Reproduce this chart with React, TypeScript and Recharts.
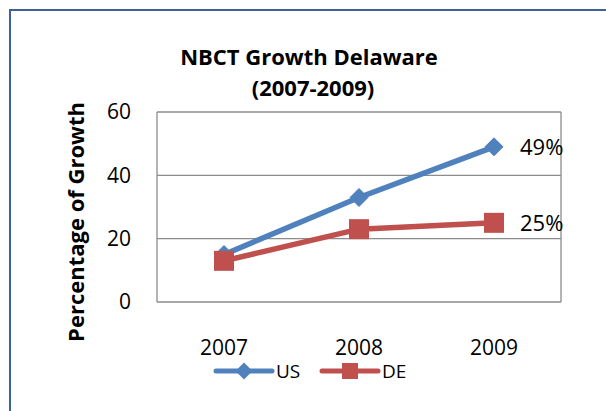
import React from 'react';
import { LineChart, Line, XAxis, YAxis, CartesianGrid, Legend, LabelList } from 'recharts';

const categories = ['2007', '2008', '2009'];
const usValues = [15, 33, 49];
const deValues = [13, 23, 25];
const yTicks = [0, 20, 40, 60];
const seriesNames = ['US', 'DE'];
const endLabels = ['49%', '25%'];

const data = categories.map((c, i) => ({ year: c, US: usValues[i], DE: deValues[i] }));

const BLUE = '#4F81BD';
const RED = '#C0504D';
const GRID = '#8C8C8C';
const FONT = '"Open Sans", "Noto Sans", sans-serif';

const Diamond = (props: any) => {
  const { cx, cy } = props;
  if (cx == null || cy == null) return null;
  const r = 9;
  return <polygon points={`${cx},${cy - r} ${cx + r},${cy} ${cx},${cy + r} ${cx - r},${cy}`} fill={BLUE} stroke={BLUE} strokeWidth={1} />;
};

const Square = (props: any) => {
  const { cx, cy } = props;
  if (cx == null || cy == null) return null;
  const s = 20;
  return <rect x={cx - s / 2} y={cy - s / 2} width={s} height={s} fill={RED} />;
};

const makeEndLabel = (text: string) => (props: any) => {
  const { x, y, index } = props;
  if (index !== categories.length - 1) return null;
  return (
    <text x={x + 26} y={y} dy="0.36em" fontSize={22} fontFamily={FONT} fill="#000" textAnchor="start">
      {text}
    </text>
  );
};

const LegendContent = (props: any) => {
  const payload = [...(props.payload || [])].sort(
    (a: any, b: any) => seriesNames.indexOf(a.value) - seriesNames.indexOf(b.value)
  );
  const start = 216;
  const step = 106;
  return (
    <svg width={606} height={24} style={{ display: 'block' }}>
      {payload.map((p: any, i: number) => {
        const x0 = start + i * step;
        const cx = x0 + 28;
        const cy = 12;
        return (
          <g key={i}>
            <line x1={x0} y1={cy} x2={x0 + 56} y2={cy} stroke={p.color} strokeWidth={5} strokeLinecap="round" />
            {p.value === seriesNames[0] ? (
              <polygon points={`${cx},${cy - 8.5} ${cx + 8.5},${cy} ${cx},${cy + 8.5} ${cx - 8.5},${cy}`} fill={p.color} />
            ) : (
              <rect x={cx - 8} y={cy - 8} width={16} height={16} fill={p.color} />
            )}
            <text x={x0 + 60} y={cy} dy="0.36em" fontSize={19} fontFamily={FONT} fill="#000">
              {p.value}
            </text>
          </g>
        );
      })}
    </svg>
  );
};

export default function App() {
  return (
    <div style={{ position: 'absolute', left: 0, top: 0, width: 606, height: 411, overflow: 'hidden', background: '#fff' }}>
      <div
        style={{
          position: 'absolute',
          left: 9,
          top: 9,
          width: 640,
          height: 440,
          border: '2px solid #3E6296',
          boxSizing: 'border-box',
        }}
      />
      <div style={{ position: 'absolute', left: 0, top: 0 }}>
        <LineChart width={606} height={411} data={data} margin={{ top: 112, right: 45, bottom: 28, left: 0 }}>
          <CartesianGrid
            stroke={GRID}
            strokeWidth={1.3}
            vertical={true}
            verticalCoordinatesGenerator={({ offset }: any) => [offset.left, offset.left + offset.width]}
          />
          <XAxis
            dataKey="year"
            height={57}
            padding={{ left: 67, right: 67 }}
            axisLine={false}
            tickLine={false}
            tickSize={6}
            tickMargin={32}
            tick={{ fontSize: 21, fontFamily: FONT, fill: '#000' }}
          />
          <YAxis
            width={157}
            domain={[0, 60]}
            ticks={yTicks}
            axisLine={false}
            tickLine={false}
            tickSize={6}
            tickMargin={20}
            tick={{ fontSize: 21, fontFamily: FONT, fill: '#000' }}
          />
          <Legend verticalAlign="bottom" height={24} wrapperStyle={{ left: 0, width: 606, height: 24 }} content={<LegendContent />} />
          <Line
            name={seriesNames[0]}
            dataKey="US"
            stroke={BLUE}
            strokeWidth={5.5}
            dot={<Diamond />}
            activeDot={false}
            isAnimationActive={false}
          >
            <LabelList dataKey="US" content={makeEndLabel(endLabels[0])} />
          </Line>
          <Line
            name={seriesNames[1]}
            dataKey="DE"
            stroke={RED}
            strokeWidth={5.5}
            dot={<Square />}
            activeDot={false}
            isAnimationActive={false}
          >
            <LabelList dataKey="DE" content={makeEndLabel(endLabels[1])} />
          </Line>
        </LineChart>
      </div>
      <svg width={606} height={411} style={{ position: 'absolute', left: 0, top: 0, pointerEvents: 'none' }}>
        <text x={309} y={65} textAnchor="middle" fontSize={22} fontWeight="bold" fontFamily={FONT} fill="#000">
          NBCT Growth Delaware
        </text>
        <text x={313} y={96} textAnchor="middle" fontSize={22} fontWeight="bold" fontFamily={FONT} fill="#000">
          (2007-2009)
        </text>
        <text
          x={84}
          y={222}
          transform="rotate(-90 84 222)"
          textAnchor="middle"
          fontSize={22}
          fontWeight="bold"
          fontFamily={FONT}
          fill="#000"
        >
          Percentage of Growth
        </text>
      </svg>
    </div>
  );
}
